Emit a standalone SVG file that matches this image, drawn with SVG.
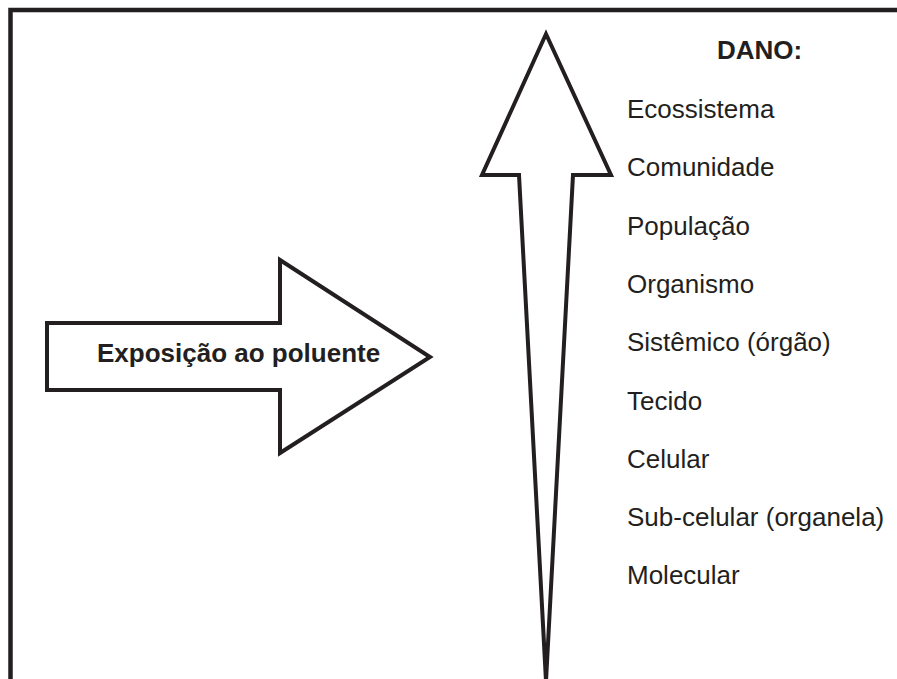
<svg xmlns="http://www.w3.org/2000/svg" width="897" height="679" viewBox="0 0 897 679">
<style>
.shape{fill:#ffffff;stroke:#231f20;stroke-width:4;stroke-linejoin:miter;stroke-miterlimit:20}
.lbl{font-family:"Liberation Sans",Arial,sans-serif;font-size:26px;fill:#231f20}
.b{font-weight:bold}
</style>
<rect x="0" y="0" width="897" height="679" fill="#ffffff"/>
<g id="frame">
<path d="M10.5,679 V10 H897" fill="none" stroke="#231f20" stroke-width="4.5"/>
</g>
<g id="connectors">
<path id="damage-arrow" class="shape" d="M546,34 L611,175 L573,175 L546,681 L519,175 L482,175 Z"/>
</g>
<g id="exposure">
<path class="shape" d="M47,323 H280 V260 L430,357 L280,453 V390 H47 Z"/>
<text class="lbl b" x="97" y="362">Exposição ao poluente</text>
</g>
<g id="dano-title"><text class="lbl b" x="717" y="59">DANO:</text></g>
<g id="level-ecossistema"><text class="lbl" x="627" y="118">Ecossistema</text></g>
<g id="level-comunidade"><text class="lbl" x="627" y="176.3">Comunidade</text></g>
<g id="level-populacao"><text class="lbl" x="627" y="234.6">População</text></g>
<g id="level-organismo"><text class="lbl" x="627" y="292.9">Organismo</text></g>
<g id="level-sistemico"><text class="lbl" x="627" y="351.2">Sistêmico (órgão)</text></g>
<g id="level-tecido"><text class="lbl" x="627" y="409.5">Tecido</text></g>
<g id="level-celular"><text class="lbl" x="627" y="467.8">Celular</text></g>
<g id="level-subcelular"><text class="lbl" x="627" y="526.1">Sub-celular (organela)</text></g>
<g id="level-molecular"><text class="lbl" x="627" y="584.4">Molecular</text></g>
</svg>
